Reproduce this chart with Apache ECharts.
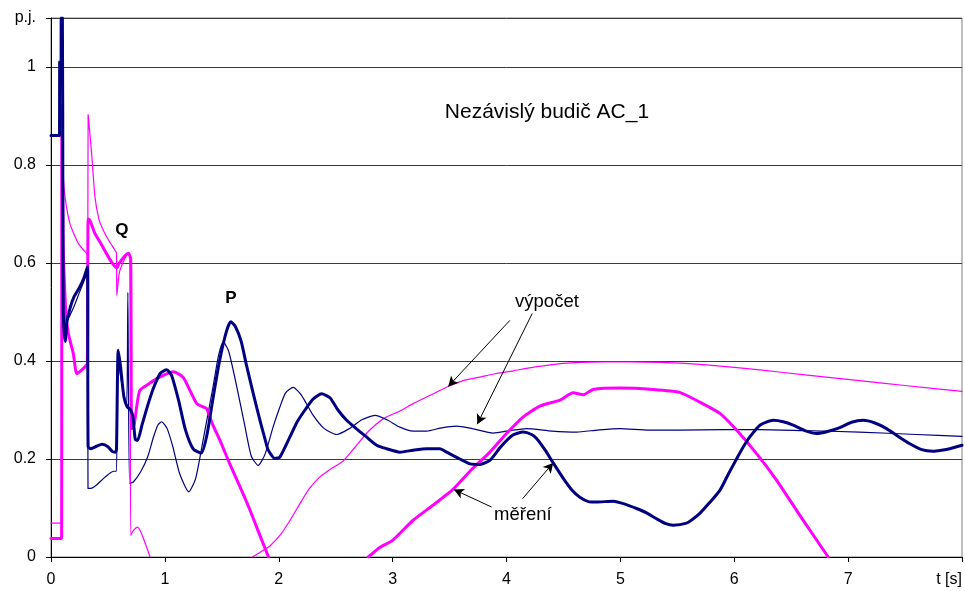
<!DOCTYPE html>
<html>
<head>
<meta charset="utf-8">
<script src="https://cdn.jsdelivr.net/npm/echarts@6/dist/echarts.min.js"></script>
<style>
  html, body { margin: 0; padding: 0; background: #fff; }
  #chart { width: 965px; height: 591px; }
</style>
</head>
<body>
<div id="chart"></div>
<script>
// Time axis ticks [s] and value axis ticks [p.j.]
const xTicks = [0, 1, 2, 3, 4, 5, 6, 7, 8];
const yTicks = [0, 0.2, 0.4, 0.6, 0.8, 1];

// Active power P, measured (thick navy): [t, value]
const pMeasured = [
  [0,0.86],[0.075,0.86],[0.076,1.01],[0.088,1.01],[0.09,1.1],[0.1,1.1],[0.104,0.75],[0.108,0.5],
  [0.115,0.46],[0.125,0.44],[0.14,0.48],[0.17,0.51],[0.2,0.53],[0.25,0.55],[0.29,0.57],[0.32,0.592],
  [0.326,0.225],[0.35,0.221],[0.4,0.226],[0.45,0.23],[0.5,0.225],[0.54,0.215],[0.565,0.214],[0.575,0.22],
  [0.59,0.422],[0.61,0.39],[0.64,0.327],[0.67,0.306],[0.7,0.3],[0.72,0.285],[0.74,0.24],[0.76,0.238],
  [0.8,0.27],[0.85,0.31],[0.9,0.345],[0.96,0.375],[1.016,0.382],[1.06,0.37],[1.12,0.32],[1.18,0.26],
  [1.25,0.22],[1.32,0.212],[1.37,0.25],[1.42,0.32],[1.48,0.40],[1.54,0.46],[1.578,0.48],[1.62,0.47],
  [1.67,0.44],[1.718,0.39],[1.78,0.33],[1.835,0.279],[1.88,0.24],[1.908,0.218],[1.967,0.201],[2.01,0.204],
  [2.098,0.245],[2.16,0.275],[2.23,0.30],[2.3,0.322],[2.377,0.333],[2.45,0.325],[2.52,0.30],[2.596,0.279],
  [2.68,0.262],[2.77,0.245],[2.86,0.228],[2.947,0.221],[3.064,0.214],[3.18,0.218],[3.3,0.221],[3.415,0.221],
  [3.474,0.214],[3.59,0.2],[3.68,0.19],[3.766,0.189],[3.854,0.197],[3.95,0.225],[4.05,0.248],[4.147,0.255],
  [4.22,0.25],[4.264,0.242],[4.34,0.218],[4.41,0.192],[4.5,0.16],[4.58,0.135],[4.644,0.122],[4.72,0.113],
  [4.79,0.112],[4.937,0.114],[5.04,0.108],[5.142,0.099],[5.23,0.09],[5.318,0.078],[5.4,0.068],[5.464,0.065],
  [5.581,0.069],[5.64,0.078],[5.698,0.089],[5.78,0.11],[5.874,0.136],[5.95,0.17],[6.02,0.2],[6.08,0.225],
  [6.137,0.245],[6.225,0.269],[6.342,0.279],[6.43,0.276],[6.517,0.269],[6.62,0.258],[6.723,0.252],[6.82,0.256],
  [6.927,0.264],[7.03,0.275],[7.132,0.279],[7.23,0.274],[7.337,0.262],[7.44,0.246],[7.542,0.231],[7.646,0.219],
  [7.746,0.216],[7.82,0.218],[7.893,0.221],[8.0,0.228]
];

// Active power P, calculated (thin navy)
const pCalculated = [
  [0,0.86],[0.075,0.86],[0.076,1.01],[0.088,1.01],[0.09,1.1],[0.1,1.1],[0.104,0.75],[0.108,0.52],
  [0.115,0.49],[0.135,0.48],[0.16,0.49],[0.2,0.51],[0.25,0.54],[0.3,0.57],[0.32,0.585],[0.325,0.14],
  [0.35,0.14],[0.4,0.147],[0.45,0.158],[0.5,0.168],[0.55,0.175],[0.575,0.175],[0.585,0.41],[0.61,0.37],
  [0.64,0.33],[0.665,0.31],[0.675,0.54],[0.69,0.15],[0.723,0.153],[0.79,0.175],[0.85,0.205],[0.9,0.245],
  [0.94,0.27],[0.972,0.276],[1.02,0.262],[1.07,0.225],[1.13,0.17],[1.21,0.133],[1.27,0.16],[1.337,0.24],
  [1.425,0.35],[1.47,0.41],[1.513,0.439],[1.56,0.42],[1.62,0.36],[1.7,0.27],[1.76,0.205],[1.82,0.187],
  [1.88,0.21],[1.95,0.265],[2.01,0.306],[2.06,0.335],[2.127,0.346],[2.2,0.33],[2.3,0.29],[2.4,0.262],
  [2.51,0.25],[2.62,0.262],[2.73,0.28],[2.845,0.289],[2.95,0.28],[3.064,0.265],[3.18,0.257],[3.3,0.257],
  [3.42,0.263],[3.56,0.267],[3.7,0.262],[3.883,0.253],[4.03,0.258],[4.176,0.262],[4.4,0.257],[4.615,0.255],
  [4.8,0.259],[4.996,0.262],[5.25,0.259],[5.52,0.259],[5.9,0.26],[6.22,0.26],[6.6,0.258],[7.1,0.255],
  [7.6,0.25],[8.0,0.246]
];

// Reactive power Q, measured (thick magenta); null = below the visible range
const qMeasured = [
  [0,0.038],[0.093,0.038],[0.095,0.92],[0.1,0.8],[0.104,0.7],[0.108,0.625],[0.13,0.5],[0.152,0.456],
  [0.196,0.415],[0.226,0.374],[0.26,0.38],[0.299,0.388],[0.319,0.395],[0.326,0.69],[0.342,0.687],[0.386,0.66],
  [0.43,0.643],[0.518,0.607],[0.577,0.59],[0.6,0.6],[0.65,0.615],[0.68,0.62],[0.7,0.608],[0.708,0.262],
  [0.73,0.27],[0.752,0.306],[0.78,0.34],[0.85,0.352],[0.9,0.36],[1.0,0.372],[1.074,0.378],[1.16,0.367],
  [1.22,0.34],[1.28,0.313],[1.34,0.306],[1.367,0.303],[1.42,0.27],[1.484,0.238],[1.57,0.19],[1.66,0.143],
  [1.74,0.1],[1.806,0.061],[1.91,0],[1.92,null],[2.78,null],[2.786,0],[2.89,0.02],[3.0,0.034],
  [3.18,0.075],[3.35,0.105],[3.53,0.138],[3.7,0.18],[3.854,0.214],[4.0,0.252],[4.147,0.286],[4.293,0.308],
  [4.469,0.32],[4.586,0.335],[4.673,0.331],[4.761,0.342],[4.996,0.345],[5.288,0.342],[5.52,0.336],[5.698,0.316],
  [5.874,0.293],[6.02,0.259],[6.196,0.211],[6.371,0.157],[6.576,0.085],[6.825,0]
];

// Reactive power Q, calculated (thin magenta)
const qCalculated = [
  [0,0.069],[0.093,0.069],[0.095,0.923],[0.1,0.86],[0.108,0.78],[0.123,0.735],[0.167,0.68],[0.24,0.64],
  [0.313,0.619],[0.323,0.617],[0.326,0.903],[0.357,0.823],[0.386,0.735],[0.42,0.69],[0.459,0.667],[0.51,0.645],
  [0.562,0.626],[0.575,0.62],[0.578,0.534],[0.6,0.58],[0.64,0.605],[0.68,0.62],[0.695,0.61],[0.7,0.044],
  [0.72,0.053],[0.76,0.061],[0.8,0.045],[0.87,0],[0.88,null],[1.76,null],[1.77,0],[1.864,0.014],
  [1.92,0.022],[2.01,0.044],[2.1,0.075],[2.186,0.109],[2.27,0.14],[2.36,0.163],[2.46,0.18],[2.566,0.196],
  [2.67,0.224],[2.77,0.252],[2.86,0.272],[2.947,0.286],[3.064,0.298],[3.18,0.313],[3.33,0.33],[3.488,0.348],
  [3.62,0.36],[3.766,0.367],[3.9,0.374],[4.06,0.38],[4.2,0.386],[4.352,0.391],[4.5,0.395],[4.644,0.397],
  [4.85,0.398],[5.08,0.398],[5.35,0.397],[5.7,0.393],[6.0,0.387],[6.225,0.382],[6.6,0.372],[7.1,0.36],
  [7.5,0.35],[8.0,0.338]
];

// Annotation arrows (data coordinates): [from, to]
const arrowsCalc = [
  [[4.03, 0.483], [3.488, 0.348]],
  [[4.226, 0.497], [3.743, 0.271]]
];
const arrowsMeas = [
  [[3.869, 0.102], [3.538, 0.1376]],
  [[4.141, 0.119], [4.41, 0.192]]
];

// Text annotations (data coordinates)
const notes = [
  { text: 'Nezávislý budič AC_1', at: [4.355, 0.907], size: 21, bold: false },
  { text: 'Q', at: [0.623, 0.667], size: 17, bold: true },
  { text: 'P', at: [1.58, 0.528], size: 17, bold: true },
  { text: 'výpočet', at: [4.355, 0.52], size: 18.5, bold: false },
  { text: 'měření', at: [4.144, 0.085], size: 18.5, bold: false }
];

const FONT = '"Liberation Sans", Arial, sans-serif';
const NAVY = '#000080';
const MAGENTA = '#ff00ff';

const chart = echarts.init(document.getElementById('chart'), null, { renderer: 'canvas' });

function arrowLines(list) {
  return list.map(a => [{ coord: a[0] }, { coord: a[1] }]);
}

function lineSeries(name, data, color, width, z, extra) {
  return Object.assign({
    name, type: 'line', data, z,
    showSymbol: false, symbol: 'none',
    smooth: 0.2,
    connectNulls: false, clip: true,
    lineStyle: { color, width, join: 'round', cap: 'round' },
    itemStyle: { color },
    animation: false, silent: true
  }, extra || {});
}

const arrowStyle = {
  silent: true, animation: false,
  symbol: ['none', 'arrow'], symbolSize: [8, 10],
  label: { show: false },
  lineStyle: { color: '#000', width: 1, type: 'solid' }
};

chart.setOption({
  animation: false,
  backgroundColor: '#fff',
  grid: {
    left: 51, right: 3, top: 18, bottom: 34,
    show: true, borderColor: '#808080', borderWidth: 1, backgroundColor: 'transparent'
  },
  xAxis: {
    type: 'value', min: xTicks[0], max: xTicks[xTicks.length - 1], interval: 1,
    axisLine: { show: true, onZero: false, lineStyle: { color: '#000', width: 1 } },
    axisTick: { show: true, inside: false, length: 5, lineStyle: { color: '#000' } },
    splitLine: { show: false },
    axisLabel: {
      color: '#000', fontFamily: FONT, fontSize: 16, margin: 15,
      alignMaxLabel: 'right',
      formatter: v => (v === 8 ? 't [s]' : String(v))
    }
  },
  yAxis: {
    type: 'value', min: 0, max: 1.1, interval: 0.2,
    axisLine: { show: true, lineStyle: { color: '#000', width: 1 } },
    axisTick: { show: true, inside: false, length: 5, lineStyle: { color: '#000' } },
    splitLine: { show: true, lineStyle: { color: '#3a3a3a', width: 1 } },
    axisLabel: {
      color: '#000', fontFamily: FONT, fontSize: 16, margin: 15,
      formatter: v => {
        if (v > 1.05) return 'p.j.';
        const t = yTicks.find(k => Math.abs(k - v) < 1e-6);
        return t === undefined ? '' : String(t);
      }
    }
  },
  series: [
    lineSeries('Q výpočet', qCalculated, MAGENTA, 1.2, 2),
    lineSeries('P výpočet', pCalculated, NAVY, 1.2, 3, {
      markLine: Object.assign({ data: arrowLines(arrowsCalc) }, arrowStyle)
    }),
    lineSeries('Q měření', qMeasured, MAGENTA, 3, 4),
    lineSeries('P měření', pMeasured, NAVY, 3, 5, {
      markLine: Object.assign({ data: arrowLines(arrowsMeas) }, arrowStyle)
    })
  ]
});

// Place the text notes at their data positions
const graphics = notes.map(n => {
  const p = chart.convertToPixel({ gridIndex: 0 }, n.at);
  return {
    type: 'text', x: p[0], y: p[1], z: 100, silent: true,
    style: {
      text: n.text, fill: '#000',
      font: (n.bold ? 'bold ' : '') + n.size + 'px ' + FONT,
      align: 'center', verticalAlign: 'middle'
    }
  };
});
chart.setOption({ graphic: graphics });
</script>
</body>
</html>
